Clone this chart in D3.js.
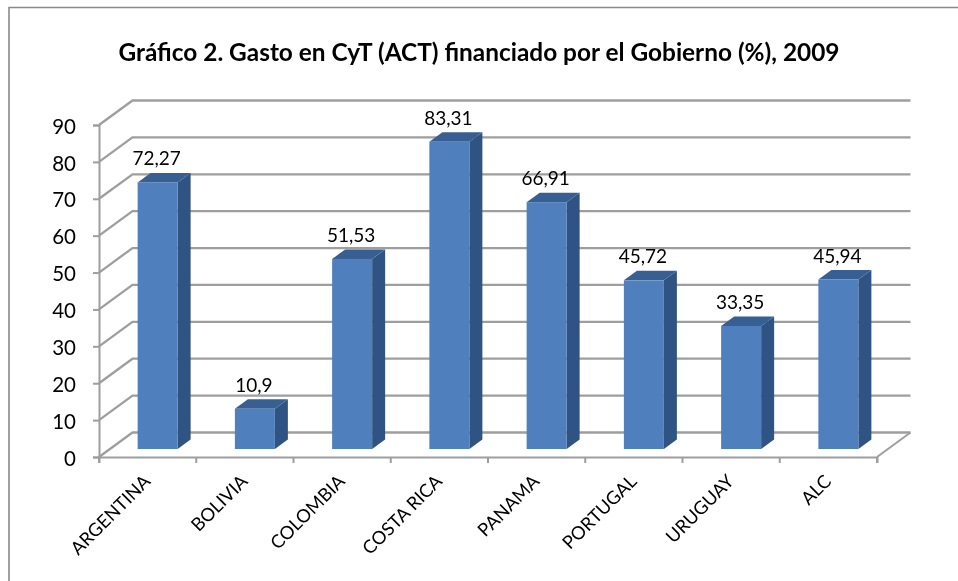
<!DOCTYPE html>
<html>
<head>
<meta charset="utf-8">
<script src="https://cdn.jsdelivr.net/npm/d3@7"></script>
<style>
  html, body { margin: 0; padding: 0; background: #fff; }
  svg { display: block; filter: blur(0.35px); }
  text { font-family: Lato, "Open Sans", sans-serif; fill: #000; }
</style>
</head>
<body>
<div id="chart"></div>
<script>
var chartTitle = "Gráfico 2. Gasto en CyT (ACT) financiado por el Gobierno (%), 2009";
var countries = ["ARGENTINA", "BOLIVIA", "COLOMBIA", "COSTA RICA", "PANAMA", "PORTUGAL", "URUGUAY", "ALC"];
var values = [72.27, 10.9, 51.53, 83.31, 66.91, 45.72, 33.35, 45.94];
var valueLabels = ["72,27", "10,9", "51,53", "83,31", "66,91", "45,72", "33,35", "45,94"];
var yTicks = [0, 10, 20, 30, 40, 50, 60, 70, 80, 90];

var width = 958, height = 581;
var gridColor = "#9e9e9e";

// Floor depth of the fake 3d box, and depth of the bars themselves.
var depth = { x: 33.5, y: -24.5 };
var barDepth = { x: 13, y: -9.5 };
var barWidth = 40;
var barShift = { x: 10, y: -8 };

var x = d3.scaleBand().domain(countries).range([99, 877]);
var y = d3.scaleLinear().domain([0, 90]).range([457, 125]);

var svg = d3.select("#chart").append("svg")
    .attr("width", width)
    .attr("height", height);

// Outer frame, only top and left are inside the picture.
svg.append("path")
    .attr("d", "M9," + height + "V7.5H" + width)
    .attr("fill", "none")
    .attr("stroke", "#8a8a8a")
    .attr("stroke-width", 1.6);

svg.append("text")
    .attr("x", 479)
    .attr("y", 61)
    .attr("text-anchor", "middle")
    .style("font-size", "24.4px")
    .style("font-weight", 700)
    .text(chartTitle);

var plot = svg.append("g");

// Back wall lines with the slanted part on the side wall.
plot.selectAll("path.grid")
    .data(yTicks)
    .enter().append("path")
    .attr("class", "grid")
    .attr("d", function(d) {
      var line = d3.path();
      line.moveTo(x.range()[0], y(d));
      line.lineTo(x.range()[0] + depth.x, y(d) + depth.y);
      line.lineTo(x.range()[1] + depth.x, y(d) + depth.y);
      return line.toString();
    })
    .attr("fill", "none")
    .attr("stroke", gridColor)
    .attr("stroke-width", 2.3);

// Right edge of the floor.
plot.append("line")
    .attr("x1", x.range()[1])
    .attr("y1", y(0))
    .attr("x2", x.range()[1] + depth.x)
    .attr("y2", y(0) + depth.y)
    .attr("stroke", gridColor)
    .attr("stroke-width", 2);

// Axes.
var yAxis = d3.axisLeft(y).tickValues(yTicks).tickSize(6).tickPadding(17);
var xAxis = d3.axisBottom(x).tickSize(6).tickFormat("");

var yAxisG = plot.append("g")
    .attr("transform", "translate(" + x.range()[0] + ",0)")
    .call(yAxis);
yAxisG.selectAll("text").style("font-size", "20.5px").attr("dy", "0.4em");

var xAxisG = plot.append("g")
    .attr("transform", "translate(0," + y(0) + ")")
    .call(xAxis);
// Ticks sit between the categories instead of on the band centres.
xAxisG.selectAll(".tick").remove();
xAxisG.selectAll("line.sep")
    .data(countries.concat(["end"]))
    .enter().append("line")
    .attr("class", "sep")
    .attr("x1", function(d, i) { return x.range()[0] + i * x.step(); })
    .attr("x2", function(d, i) { return x.range()[0] + i * x.step(); })
    .attr("y1", 0)
    .attr("y2", 6);

plot.selectAll(".domain, .tick line, line.sep")
    .attr("stroke", gridColor)
    .attr("stroke-width", 2);

// Bars: side, top and then the front face.
var bars = plot.selectAll("g.bar")
    .data(countries)
    .enter().append("g")
    .attr("class", "bar");

function frontLeft(d) { return x(d) + x.bandwidth() / 2 + barShift.x - barWidth / 2; }
function frontTop(d, i) { return y(values[i]) + barShift.y; }

bars.append("path")
    .attr("fill", "#2f5382")
    .attr("d", function(d, i) {
      var r = frontLeft(d) + barWidth, t = frontTop(d, i), b = y(0) + barShift.y;
      return "M" + r + "," + t + "l" + barDepth.x + "," + barDepth.y + "V" + (b + barDepth.y) + "L" + r + "," + b + "Z";
    });

bars.append("path")
    .attr("fill", "#385f92")
    .attr("d", function(d, i) {
      var l = frontLeft(d), t = frontTop(d, i);
      return "M" + l + "," + t + "l" + barDepth.x + "," + barDepth.y + "h" + barWidth + "l" + (-barDepth.x) + "," + (-barDepth.y) + "Z";
    });

bars.append("rect")
    .attr("x", frontLeft)
    .attr("y", frontTop)
    .attr("width", barWidth)
    .attr("height", function(d, i) { return y(0) - y(values[i]); })
    .attr("fill", "#4f7fbc");

// Value labels above the bars.
bars.append("text")
    .attr("x", function(d) { return frontLeft(d) + barWidth / 2 - 1; })
    .attr("y", function(d, i) { return frontTop(d, i) - 17; })
    .attr("text-anchor", "middle")
    .style("font-size", "19px")
    .text(function(d, i) { return valueLabels[i]; });

// Rotated category labels, right end anchored under the band centre.
plot.selectAll("text.cat")
    .data(countries)
    .enter().append("text")
    .attr("class", "cat")
    .attr("text-anchor", "end")
    .attr("transform", function(d) {
      return "translate(" + (x(d) + x.bandwidth() / 2 + 4) + "," + (y(0) + 25.5) + ") rotate(-45)";
    })
    .style("font-size", "18.3px")
    .text(function(d) { return d; });
</script>
</body>
</html>
